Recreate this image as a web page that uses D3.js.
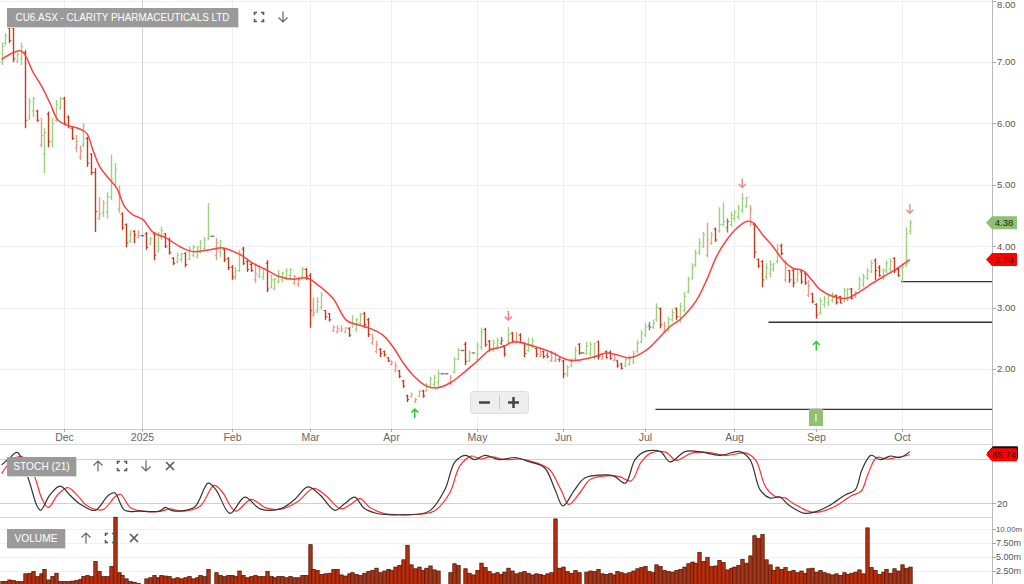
<!DOCTYPE html>
<html><head><meta charset="utf-8">
<script src="https://cdn.jsdelivr.net/npm/d3@7"></script>
<style>
html,body{margin:0;padding:0;background:#fff;overflow:hidden}
svg{display:block;font-family:"Liberation Sans",Arial,sans-serif}
</style></head><body>
<svg id="c" width="1024" height="584"></svg>
<script>
// ---------- DATA ----------
const open = [7.00,7.30,7.55,7.55,7.00,7.05,7.15,6.10,6.20,6.20, 5.65,5.50,6.15,5.70,6.05,6.25,6.40,6.10,5.92,5.60,
5.45,5.65,5.75,5.50,5.20,4.45,4.55,4.55,4.80,5.00, 4.60,4.52,4.35,4.08,4.24,4.14,4.17,4.20,4.03,4.20,
3.92,4.15,4.20,4.10,3.80,3.74,3.78,3.88,3.78,3.85, 3.82,3.90,3.96,4.13,4.16,3.85,3.90,3.95,3.80,3.66,
3.48,3.60,3.95,3.75,3.70,3.45,3.52,3.50,3.72,3.33, 3.30,3.42,3.45,3.50,3.52,3.40,3.38,3.50,3.62,3.52,
2.88,2.95,3.00,2.95,2.90,2.62,2.60,2.62,2.60,2.66, 2.70,2.65,2.75,2.90,2.80,2.42,2.28,2.32,2.28,2.18,
2.07,1.98,1.97,1.80,1.56,1.54,1.46,1.56,1.64,1.64, 1.72,1.75,1.78,1.92,1.92,1.78,1.95,2.16,2.30,2.40,
2.14,2.26,2.15,2.35,2.64,2.45,2.30,2.36,2.42,2.38, 2.45,2.58,2.42,2.55,2.42,2.30,2.36,2.33,2.20,2.28,
2.22,2.14,2.13,2.15,2.13,1.90,2.05,2.17,2.40,2.26, 2.25,2.25,2.20,2.44,2.16,2.28,2.27,2.14,2.13,2.08,
2.05,2.08,2.12,2.28,2.44,2.55,2.70,2.68,2.80,2.98, 2.62,2.65,2.80,2.98,2.85,2.95,3.25,3.48,3.70,3.90,
4.00,3.85,4.05,4.28,4.25,4.35,4.30,4.35,4.45,4.48, 4.58,4.65,4.40,4.35,3.78,3.75,3.50,3.55,3.62,3.75,
4.00,3.45,3.60,3.60,3.45,3.58,3.55,3.20,3.22,3.05, 2.92,3.05,3.08,3.12,3.20,3.18,3.10,3.15,3.30,3.17,
3.30,3.38,3.48,3.58,3.76,3.65,3.48,3.60,3.62,3.80, 3.62,3.45,3.68,4.25];
const high = [7.32,7.47,7.63,7.63,7.16,7.31,7.19,6.41,6.43,6.22, 6.09,5.92,6.19,6.09,6.38,6.43,6.43,6.13,5.94,5.81,
5.64,6.00,5.78,5.51,5.27,4.80,4.75,4.88,5.49,5.35, 4.99,4.55,4.37,4.26,4.26,4.26,4.17,4.23,4.15,4.23,
4.23,4.31,4.21,4.14,3.82,3.90,3.89,3.90,3.99,4.02, 3.99,4.10,4.15,4.70,4.16,4.13,4.10,3.97,3.82,3.69,
3.66,3.94,3.99,3.77,3.74,3.72,3.69,3.64,3.77,3.53, 3.48,3.61,3.58,3.64,3.64,3.53,3.50,3.66,3.64,3.56,
3.16,3.17,3.25,2.96,2.91,2.71,2.71,2.71,2.68,2.68, 2.88,2.83,2.91,2.93,2.83,2.58,2.46,2.34,2.30,2.19,
2.14,2.11,1.98,1.82,1.58,1.62,1.53,1.66,1.66,1.77, 1.87,1.90,1.98,1.92,1.92,1.90,2.19,2.34,2.30,2.44,
2.30,2.27,2.43,2.67,2.67,2.47,2.47,2.51,2.52,2.39, 2.68,2.60,2.60,2.58,2.43,2.51,2.51,2.34,2.34,2.30,
2.27,2.30,2.27,2.19,2.15,2.06,2.17,2.36,2.42,2.26, 2.44,2.44,2.43,2.46,2.26,2.30,2.30,2.22,2.14,2.10,
2.19,2.22,2.30,2.47,2.63,2.75,2.76,2.80,3.07,3.00, 2.77,2.85,2.98,3.00,3.08,3.25,3.50,3.72,3.94,4.13,
4.23,4.38,4.23,4.30,4.63,4.71,4.45,4.56,4.59,4.67, 4.86,4.80,4.67,4.38,3.80,3.77,3.72,3.77,3.72,4.04,
4.04,3.77,3.61,3.64,3.61,3.61,3.58,3.45,3.24,3.07, 3.16,3.19,3.21,3.25,3.21,3.19,3.32,3.32,3.32,3.27,
3.50,3.55,3.64,3.77,3.80,3.69,3.64,3.77,3.80,3.82, 3.66,3.72,4.30,4.43];
const low = [6.95,7.27,7.31,7.00,6.98,6.95,5.92,6.05,6.10,6.02, 5.61,5.19,5.61,5.61,6.02,6.22,5.97,5.92,5.73,5.53,
5.40,5.61,5.29,5.16,4.23,4.43,4.47,4.45,4.75,4.95, 4.54,4.26,3.98,4.05,4.05,4.13,4.17,3.94,4.02,3.77,
3.90,4.10,3.97,3.86,3.69,3.72,3.74,3.66,3.77,3.82, 3.80,3.88,3.94,4.10,4.16,3.77,3.82,3.74,3.61,3.45,
3.45,3.58,3.69,3.58,3.58,3.40,3.48,3.45,3.25,3.31, 3.28,3.40,3.41,3.45,3.45,3.37,3.33,3.48,3.45,2.67,
2.85,2.91,2.96,2.80,2.77,2.60,2.58,2.60,2.58,2.52, 2.67,2.60,2.72,2.67,2.52,2.39,2.25,2.19,2.20,2.11,
2.06,1.95,1.85,1.69,1.46,1.53,1.45,1.54,1.53,1.63, 1.69,1.70,1.69,1.92,1.92,1.74,1.93,2.14,2.30,2.06,
2.11,2.25,2.11,2.31,2.36,2.28,2.28,2.34,2.39,2.20, 2.42,2.42,2.42,2.42,2.19,2.28,2.34,2.19,2.19,2.17,
2.17,2.11,2.11,2.11,1.85,1.87,2.03,2.15,2.23,2.26, 2.23,2.20,2.15,2.15,2.15,2.17,2.15,2.13,2.02,1.99,
2.03,2.05,2.08,2.26,2.42,2.52,2.63,2.65,2.77,2.66, 2.60,2.60,2.77,2.80,2.75,2.92,3.23,3.45,3.66,3.86,
3.97,3.82,4.02,4.07,4.22,4.32,4.22,4.32,4.40,4.43, 4.54,4.62,4.32,3.80,3.64,3.33,3.45,3.49,3.58,3.72,
3.85,3.41,3.40,3.33,3.41,3.38,3.37,3.17,3.07,2.82, 2.88,3.00,3.02,3.08,3.05,3.07,3.08,3.10,3.13,3.15,
3.29,3.33,3.45,3.56,3.45,3.50,3.45,3.56,3.58,3.56, 3.50,3.41,3.66,4.19];
const close = [7.25,7.42,7.35,7.05,7.12,7.25,6.05,6.35,6.40,6.05, 5.80,5.85,5.70,6.00,6.30,6.40,6.00,5.95,5.75,5.70,
5.55,5.95,5.35,5.20,4.56,4.52,4.70,4.80,5.10,5.25, 4.85,4.30,4.05,4.20,4.18,4.17,4.17,3.98,4.12,3.85,
4.18,4.25,4.00,3.90,3.72,3.85,3.87,3.70,3.95,3.98, 3.99,4.05,4.10,4.16,4.16,4.05,4.08,3.78,3.65,3.50,
3.60,3.88,3.72,3.62,3.60,3.55,3.62,3.63,3.30,3.45, 3.46,3.55,3.56,3.60,3.62,3.50,3.45,3.62,3.50,2.95,
2.92,3.10,3.20,2.85,2.80,2.68,2.66,2.65,2.67,2.55, 2.75,2.80,2.88,2.72,2.56,2.50,2.40,2.25,2.23,2.13,
2.11,2.05,1.88,1.72,1.50,1.58,1.50,1.63,1.56,1.74, 1.84,1.86,1.92,1.92,1.92,1.86,2.15,2.30,2.30,2.12,
2.26,2.26,2.38,2.60,2.40,2.32,2.42,2.46,2.46,2.24, 2.55,2.45,2.44,2.43,2.25,2.40,2.45,2.24,2.23,2.20,
2.20,2.18,2.16,2.16,1.92,2.02,2.14,2.30,2.26,2.26, 2.38,2.40,2.41,2.20,2.19,2.18,2.17,2.16,2.05,2.01,
2.15,2.18,2.25,2.42,2.58,2.68,2.68,2.75,3.00,2.72, 2.70,2.80,2.92,2.85,3.02,3.18,3.45,3.65,3.88,4.05,
4.18,4.10,4.18,4.10,4.35,4.40,4.40,4.50,4.55,4.62, 4.78,4.79,4.60,3.90,3.68,3.45,3.65,3.70,3.71,3.95,
3.88,3.65,3.45,3.40,3.55,3.42,3.40,3.35,3.10,2.88, 3.10,3.15,3.18,3.20,3.08,3.07,3.28,3.30,3.15,3.24,
3.45,3.50,3.60,3.72,3.60,3.52,3.60,3.72,3.75,3.60, 3.52,3.65,4.20,4.38];
const volume = [0.6,0.6,0.9,0.8,0.6,0.6,2.0,2.1,2.4,1.5, 2.0,2.8,0.9,1.5,2.1,0.6,0.6,0.6,0.7,0.8,
1.0,1.5,1.7,1.5,4.2,2.4,1.5,1.5,3.3,12.1, 2.2,1.7,1.1,0.6,0.5,0.3,0,1.1,1.3,1.7,
1.3,1.7,1.6,1.5,1.1,1.3,1.1,1.3,1.5,1.1, 1.3,1.7,1.5,2.8,0,2.2,1.7,1.5,1.7,1.7,
1.5,2.5,1.7,1.3,1.5,1.7,1.5,1.5,2.4,1.5, 1.3,1.5,1.5,1.3,1.5,1.3,1.3,1.7,1.7,7.2,
2.8,2.6,1.9,2.0,2.1,2.8,2.8,1.8,1.6,2.0, 2.2,1.9,1.7,2.1,2.4,2.6,3.0,2.2,2.5,2.8,
2.6,3.2,3.5,4.5,7.1,3.6,2.9,3.2,2.6,3.0, 3.4,2.7,2.5,0,0,2.2,3.8,3.5,0,2.9,
2.1,1.8,2.6,3.9,3.1,2.4,2.0,2.2,1.9,2.3, 3.0,2.5,2.0,2.2,2.4,2.1,1.8,2.0,1.9,1.7,
2.0,2.2,11.8,3.0,3.2,2.4,2.1,2.6,2.2,0, 2.3,2.5,2.4,2.8,2.0,1.9,2.1,1.8,2.4,2.2,
2.0,2.2,2.5,2.9,3.1,3.3,2.4,2.2,3.6,3.3, 2.6,2.4,2.3,2.6,2.8,3.2,3.8,4.1,3.9,5.8,
4.2,4.9,3.3,3.4,4.4,4.0,2.7,3.0,3.2,3.5, 4.6,3.9,5.2,8.8,8.3,9.0,4.5,3.6,2.6,3.2,
2.8,3.1,2.4,2.6,2.2,2.5,2.1,2.9,3.0,2.3, 2.6,2.2,2.0,1.8,2.0,1.7,2.2,1.9,2.1,2.3,
2.7,2.0,10.2,3.1,2.6,1.9,2.3,2.8,2.1,2.9, 2.5,3.6,3.0,3.2];
// moving-average line, sampled [bar index, price]
const maPts = [[0,7.04],[5,7.18],[8,6.84],[10.3,6.60],[12.4,6.33],[14.5,6.05],[16.7,5.97],[19.6,5.92],[21.8,5.84],
[23.4,5.57],[25.2,5.29],[27.8,5.08],[29.5,4.95],[31.6,4.64],[33.7,4.51],[36.3,4.43],[38.8,4.23],[42.3,4.13],
[45.8,3.99],[49.1,3.91],[53.5,3.94],[56.8,3.97],[61.2,3.86],[64.5,3.72],[68,3.61],[71.4,3.50],[74.8,3.46],
[78.3,3.48],[81.7,3.34],[85,3.15],[88.5,2.79],[91.9,2.71],[94.5,2.66],[97.8,2.55],[100.4,2.36],[102.9,2.11],
[105.5,1.90],[109,1.72],[111.6,1.69],[115,1.77],[118.4,1.93],[121.9,2.12],[125.3,2.31],[128.6,2.36],
[131.2,2.44],[135.5,2.39],[140.7,2.28],[145.8,2.14],[151.7,2.19],[155.2,2.26],[157.8,2.23],[161.2,2.18],
[165.5,2.31],[168.9,2.52],[171.5,2.69],[174,2.80],[175.7,2.91],[178.3,3.12],[180.9,3.45],[183.4,3.83],
[186,4.10],[188.6,4.29],[191.1,4.40],[192.8,4.38],[195.3,4.18],[197.9,3.99],[200.5,3.77],[203,3.64],
[205.6,3.60],[207.8,3.45],[210,3.29],[213.3,3.18],[216.8,3.15],[220.2,3.26],[223.5,3.40],[227,3.53],
[229.6,3.63],[233,3.78]];
// stochastic (21) %K (black) and %D (red), sampled [bar index, value]
const stochK = [[0,72],[2,81],[4,89],[7,51],[9,17],[10,10],[12.4,31],[15,43],[17.5,31],[20,19],[24,10],[27.3,30],
[29,34],[31.6,10],[35.5,9],[40.6,9],[42,14],[43.5,10],[45.8,9],[49.6,15],[53,47],[55,38],[58.6,6],[62.4,28],
[66.3,12],[71.4,12],[75,24],[78.6,42],[81.7,31],[85.5,10],[88,19],[90.6,28],[93,13],[97,5],[102,4],[107,5],
[110,10],[113.7,38],[116.3,76],[119,85],[121.4,79],[124,85],[127.8,79],[131.7,82],[135.5,76],[139.3,68],
[142,38],[144,16],[147,38],[149.6,54],[153.5,58],[157,57],[160,47],[162.5,79],[165,90],[169,90],[171.5,76],
[175.3,90],[179,90],[184.3,85],[189.4,90],[192,79],[194.6,38],[197,27],[199.7,28],[202,17],[206,6],[208.7,8],
[212.5,17],[216.4,31],[219,38],[220.7,65],[223,85],[225.4,79],[228,84],[230.5,82],[233,90]];
const stochD = [[0,60],[2,74],[5,84],[8,62],[10.5,24],[12,14],[14.5,32],[17,41],[19.5,30],[22,16],[26,11],[29,28],
[30.5,32],[33,14],[36,9],[41,9],[43,12],[45,10],[47,9],[51,16],[54.5,44],[56.5,36],[60,9],[64,25],[68,13],
[72,12],[76,22],[80,40],[83,31],[87,12],[89.5,18],[92,26],[94.5,14],[98,6],[103,4],[108,5],[111,9],[115,34],
[117.5,70],[120.5,84],[123,80],[125.5,83],[129.5,79],[133,80],[137,75],[140.5,66],[143.5,38],[145.5,18],
[148.5,35],[151,52],[155,57],[158.5,56],[161.5,50],[164,75],[166.5,88],[170.5,89],[173,78],[177,88],[181,89],
[186,85],[191,88],[193.5,78],[196,42],[198.5,29],[201,27],[203.5,18],[207.5,8],[210,8],[214,16],[218,30],
[220.5,36],[222.3,60],[224.5,82],[227,80],[229.5,82],[233,85.74]];
const monthLabels = ["Dec","2025","Feb","Mar","Apr","May","Jun","Jul","Aug","Sep","Oct"];
const priceTicks = [2,3,4,5,6,7,8];
const volTicks = [2.5,5,7.5,10];
const stochTicks = [20];
const supportLevels = [3.42, 2.76, 1.34];
const supportStart = [231, 197, 168];
const downArrows = [[130,2.86],[190,5.02],[233,4.60]];
const upArrows = [[106,1.28],[209,2.38]];
const markerIdx = 209;
const lastPrice = 4.38, lastMA = 3.78, lastStoch = 85.74;

// ---------- trading calendar (weekdays, exchange closed 25/26 Dec) ----------
const dates = [];
for (let d = new Date(2024,10,8); dates.length < close.length; d.setDate(d.getDate()+1)) {
  const wd = d.getDay();
  if (wd === 0 || wd === 6) continue;
  if (d.getMonth() === 11 && (d.getDate() === 25 || d.getDate() === 26)) continue;
  dates.push(new Date(d));
}
const monthStartIdx = [];
dates.forEach((d,i) => { if (i>0 && d.getMonth() !== dates[i-1].getMonth()) monthStartIdx.push(i); });

// ---------- SCALES ----------
const svg = d3.select("#c");
const axisX = 992;
const x = d3.scaleLinear().domain([0, 233]).range([1.6, 1.6 + 233*3.898]);
const y = d3.scaleLinear().domain([1, 8]).range([430.3, 0.5]);
const ys = d3.scaleLinear().domain([0, 100]).range([517.7, 444.3]);
const yv = d3.scaleLinear().domain([0, 10]).range([585, 529]);

// ---------- PRICE PANEL ----------
const gp = svg.append("g");
gp.selectAll("line.hg").data(priceTicks).join("line")
  .attr("x1",0).attr("x2",axisX).attr("y1",d=>Math.round(y(d))+0.5).attr("y2",d=>Math.round(y(d))+0.5)
  .attr("stroke","#efefef");
gp.selectAll("line.vg").data(monthStartIdx).join("line")
  .attr("x1",d=>Math.round(x(d))+0.5).attr("x2",d=>Math.round(x(d))+0.5).attr("y1",0).attr("y2",429)
  .attr("stroke",(d,i)=>monthLabels[i]==="2025"?"#d0d0d0":"#efefef");
svg.append("line").attr("x1",0).attr("x2",axisX).attr("y1",429.5).attr("y2",429.5).attr("stroke","#ccc");
svg.append("line").attr("x1",axisX+0.5).attr("x2",axisX+0.5).attr("y1",0).attr("y2",584).attr("stroke","#bbb");

supportLevels.forEach((lv,i)=>{
  gp.append("line").attr("x1",x(supportStart[i])-1).attr("x2",axisX).attr("y1",y(lv)).attr("y2",y(lv))
    .attr("stroke","#333").attr("stroke-width",1.3);
});

function barColor(i){
  const pc = i>0 ? close[i-1] : open[i];
  if (high[i]===low[i] || close[i]===pc) return "#7a7a7a";
  if (close[i] > pc) return "#9fd07f";
  return close[i] < open[i] ? "#c23b1e" : "#e69a8a";
}
const bars = gp.append("g");
close.forEach((c,i)=>{
  const cx = Math.round(x(i))+0.5, col = barColor(i);
  const g = bars.append("g").attr("stroke",col).attr("stroke-width",1.4);
  if (high[i]===low[i]) {
    g.append("line").attr("x1",cx-1.8).attr("x2",cx+1.8).attr("y1",y(c)).attr("y2",y(c));
  } else {
    g.append("line").attr("x1",cx).attr("x2",cx).attr("y1",y(high[i])).attr("y2",y(low[i]));
    g.append("line").attr("x1",cx-1.8).attr("x2",cx).attr("y1",y(open[i])).attr("y2",y(open[i])).attr("stroke-width",1);
    g.append("line").attr("x1",cx).attr("x2",cx+1.8).attr("y1",y(c)).attr("y2",y(c)).attr("stroke-width",1);
  }
});
gp.append("path").datum(maPts)
  .attr("d", d3.line().x(d=>x(d[0])).y(d=>y(d[1])).curve(d3.curveCatmullRom.alpha(0.5)))
  .attr("fill","none").attr("stroke","#ff4040").attr("stroke-width",1.5);

function arrow(g, cx, cy, dir, col){
  const s = dir;
  g.append("path").attr("d",`M${cx},${cy-5*s} L${cx},${cy+4*s} M${cx-3.5},${cy+0.5*s} L${cx},${cy+4*s} L${cx+3.5},${cy+0.5*s}`)
   .attr("fill","none").attr("stroke",col).attr("stroke-width",1.5);
}
downArrows.forEach(d=>arrow(gp, x(d[0]), y(d[1]), 1, "#f08a8a"));
upArrows.forEach(d=>arrow(gp, x(d[0]), y(d[1]), -1, "#2ecc2e"));

const mx = Math.round(x(markerIdx));
gp.append("rect").attr("x",mx-7).attr("y",409).attr("width",14).attr("height",17).attr("fill","#8fc073");
gp.append("text").attr("x",mx).attr("y",421.5).attr("text-anchor","middle").attr("fill","#fff")
  .attr("font-size",10).text("I");

const zc = svg.append("g");
zc.append("rect").attr("x",470.5).attr("y",391.5).attr("width",58).attr("height",22).attr("rx",3)
  .attr("fill","#eeeeee").attr("stroke","#dedede");
zc.append("line").attr("x1",479).attr("x2",490).attr("y1",402.5).attr("y2",402.5).attr("stroke","#444").attr("stroke-width",2.5);
zc.append("line").attr("x1",508).attr("x2",519).attr("y1",402.5).attr("y2",402.5).attr("stroke","#444").attr("stroke-width",2.5);
zc.append("line").attr("x1",513.5).attr("x2",513.5).attr("y1",397).attr("y2",408).attr("stroke","#444").attr("stroke-width",2.5);
zc.append("line").attr("x1",499.5).attr("x2",499.5).attr("y1",395).attr("y2",410).attr("stroke","#c8c8c8");

const ax = svg.append("g").attr("font-size",9.5).attr("fill","#555");
priceTicks.forEach(t=>{
  ax.append("line").attr("x1",axisX).attr("x2",axisX+4).attr("y1",Math.round(y(t))+0.5).attr("y2",Math.round(y(t))+0.5).attr("stroke","#aaa");
  ax.append("text").attr("x",axisX+5).attr("y",Math.max(7.5,y(t)+3.5)).text(t.toFixed(2));
});
monthStartIdx.forEach((d,i)=>{
  const tx = Math.round(x(d))+0.5;
  ax.append("line").attr("x1",tx).attr("x2",tx).attr("y1",429).attr("y2",432).attr("stroke","#aaa");
  ax.append("text").attr("x",tx).attr("y",441).attr("text-anchor","middle").attr("fill","#666").attr("font-size",10.5).text(monthLabels[i]);
});

function tag(cy, txt, fill, txtCol, outline){
  const g = svg.append("g");
  const p = `M${986},${cy} L${992},${cy-6.5} L${1016},${cy-6.5} Q1017,${cy-6.5} 1017,${cy-5.5} L1017,${cy+5.5} Q1017,${cy+6.5} 1016,${cy+6.5} L${992},${cy+6.5} Z`;
  if (outline) g.append("path").attr("d",p).attr("transform","translate(1,-2)").attr("fill",outline);
  g.append("path").attr("d",p).attr("fill",fill);
  g.append("text").attr("x",1004).attr("y",cy+3.5).attr("text-anchor","middle").attr("font-size",9.5).attr("fill",txtCol).text(txt);
}
tag(y(lastPrice), lastPrice.toFixed(2), "#8fc073", "#1c2a12");
tag(y(lastMA), lastMA.toFixed(2), "#ff0000", "#3a0000");

function labelBox(x0,y0,w,h,txt,fs,tl){
  svg.append("rect").attr("x",x0+1).attr("y",y0+1).attr("width",w).attr("height",h).attr("fill","#ddd");
  svg.append("rect").attr("x",x0).attr("y",y0).attr("width",w).attr("height",h).attr("fill","#9a9a9a");
  const t = svg.append("text").attr("x",x0+w/2).attr("y",y0+h/2+3.6).attr("text-anchor","middle").attr("fill","#fff")
    .attr("font-size",fs).text(txt);
  if (tl) t.attr("textLength",tl).attr("lengthAdjust","spacingAndGlyphs");
}
labelBox(7,8,231,19,"CU6.ASX - CLARITY PHARMACEUTICALS LTD",10.2,214);
function iconFull(cx,cy){
  const s=4.5,k=2.5;
  svg.append("path").attr("d",`M${cx-s},${cy-s+k}V${cy-s}H${cx-s+k} M${cx+s-k},${cy-s}H${cx+s}V${cy-s+k} M${cx+s},${cy+s-k}V${cy+s}H${cx+s-k} M${cx-s+k},${cy+s}H${cx-s}V${cy+s-k}`)
    .attr("fill","none").attr("stroke","#555").attr("stroke-width",1.6);
}
function iconArrow(cx,cy,dir){
  svg.append("path").attr("d",`M${cx},${cy-5.5*dir} V${cy+5*dir} M${cx-4.5},${cy+0.5*dir} L${cx},${cy+5*dir} L${cx+4.5},${cy+0.5*dir}`)
    .attr("fill","none").attr("stroke","#666").attr("stroke-width",1.2);
}
function iconX(cx,cy){
  svg.append("path").attr("d",`M${cx-4},${cy-4}L${cx+4},${cy+4}M${cx+4},${cy-4}L${cx-4},${cy+4}`)
    .attr("fill","none").attr("stroke","#555").attr("stroke-width",1.6);
}
iconFull(259,17); iconArrow(283,17,1);

// ---------- STOCH PANEL ----------
const gs = svg.append("g");
[444.5, 517.5].forEach(v=>gs.append("line").attr("x1",0).attr("x2",axisX).attr("y1",v).attr("y2",v).attr("stroke","#d8d8d8"));
[80,20].forEach(v=>gs.append("line").attr("x1",0).attr("x2",axisX).attr("y1",Math.round(ys(v))+0.5).attr("y2",Math.round(ys(v))+0.5).attr("stroke","#cfcfcf"));
const sl = d3.line().x(d=>x(d[0])).y(d=>ys(d[1])).curve(d3.curveCatmullRom.alpha(0.5));
gs.append("path").datum(stochD).attr("d",sl).attr("fill","none").attr("stroke","#ff3030").attr("stroke-width",1.2);
gs.append("path").datum(stochK).attr("d",sl).attr("fill","none").attr("stroke","#333").attr("stroke-width",1.2);
stochTicks.forEach(t=>{
  ax.append("line").attr("x1",axisX).attr("x2",axisX+4).attr("y1",Math.round(ys(t))+0.5).attr("y2",Math.round(ys(t))+0.5).attr("stroke","#aaa");
  ax.append("text").attr("x",axisX+5).attr("y",ys(t)+3.5).text(t);
});
tag(ys(lastStoch), lastStoch.toFixed(2), "#ff0000", "#3a0000", "#111");
labelBox(7,457,69,19,"STOCH (21)",10.2);
iconArrow(98,466,-1); iconFull(122,466); iconArrow(146,466,1); iconX(170,466);

// ---------- VOLUME PANEL ----------
const gv = svg.append("g");
volTicks.forEach(t=>gv.append("line").attr("x1",0).attr("x2",axisX).attr("y1",Math.round(yv(t))+0.5).attr("y2",Math.round(yv(t))+0.5).attr("stroke","#f0f0f0"));
gv.selectAll("rect").data(volume).join("rect")
  .attr("x",(d,i)=>Math.round(x(i))-1.2).attr("y",d=>yv(d)).attr("width",3.4).attr("height",d=>Math.max(0,yv(0)-yv(d)))
  .attr("fill","#b8300c").attr("stroke","#3c0d00").attr("stroke-width",0.7);
volTicks.forEach(t=>{
  ax.append("line").attr("x1",axisX).attr("x2",axisX+4).attr("y1",Math.round(yv(t))+0.5).attr("y2",Math.round(yv(t))+0.5).attr("stroke","#aaa");
  ax.append("text").attr("x",axisX+4).attr("y",yv(t)+3.2).attr("font-size",t>=10?7.8:9).text(t.toFixed(2)+"m");
});
labelBox(7,529,58,19,"VOLUME",10.2);
iconArrow(86,538,-1); iconFull(110,538); iconX(134,538);
</script>
</body></html>
